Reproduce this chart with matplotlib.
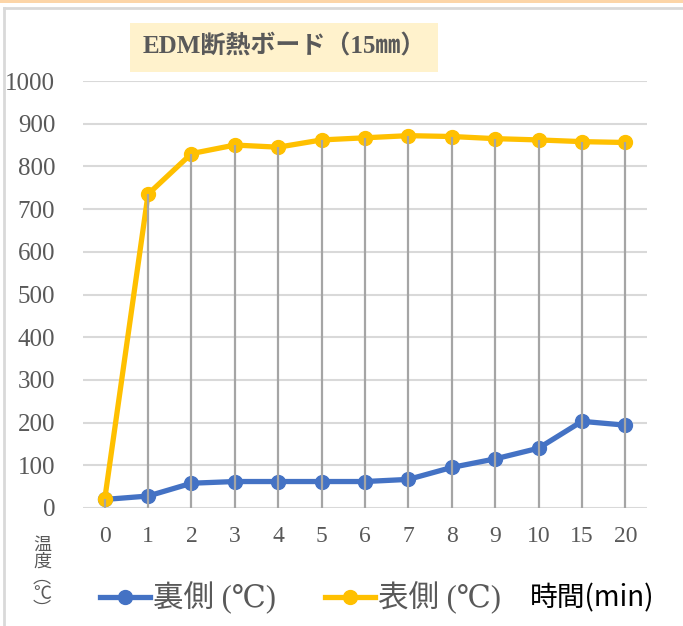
import matplotlib
matplotlib.use("Agg")
import matplotlib.pyplot as plt
from matplotlib.lines import Line2D
from matplotlib.patches import Rectangle
import numpy as np

# Data
minutes = ["0", "1", "2", "3", "4", "5", "6", "7", "8", "9", "10", "15", "20"]
back_side = [20, 28, 58, 62, 62, 62, 62, 67, 95, 115, 140, 203, 194]
front_side = [20, 735, 830, 850, 845, 862, 867, 872, 870, 865, 862, 858, 856]
y_ticks = [0, 100, 200, 300, 400, 500, 600, 700, 800, 900, 1000]
title = "EDM断熱ボード（15㎜）"
series_names = ["裏側 (℃)", "表側 (℃)"]
x_label = "時間(min)"
y_label = "温\n度\n︵\n℃\n︶"

BLUE = "#4472C4"
GOLD = "#FFC000"
TEXT = "#595959"
SERIF = ["Liberation Serif", "DejaVu Serif", "Noto Sans CJK JP"]
CJK = ["Noto Sans CJK JP", "DejaVu Sans"]
LABEL = ["Noto Sans CJK JP", "Liberation Mono", "DejaVu Sans Mono"]

W, H = 683, 626
fig = plt.figure(figsize=(W / 100, H / 100), dpi=100)
fig.patch.set_facecolor("white")

# outer frame decorations
fig.add_artist(Rectangle((0, 1 - 3 / H), 1, 3 / H, transform=fig.transFigure,
                         facecolor="#FCD5A8", edgecolor="none"))
fig.add_artist(Line2D([4 / W, 1], [1 - 8 / H, 1 - 8 / H], transform=fig.transFigure,
                      color="#D9D9D9", lw=2))
fig.add_artist(Line2D([4 / W, 4 / W], [0, 1 - 8 / H], transform=fig.transFigure,
                      color="#D9D9D9", lw=2))

left, right = 83, 647
bottom, top = 508, 81
ax = fig.add_axes([left / W, 1 - bottom / H, (right - left) / W, (bottom - top) / H])
ax.set_facecolor("none")

x = np.arange(len(minutes))
ax.set_xlim(-0.5, len(minutes) - 0.5)
ax.set_ylim(0, 1000)

for v in y_ticks:
    ax.axhline(v, color="#D9D9D9", lw=1.5, zorder=1)

ax.plot(x, back_side, color=BLUE, lw=3.8, marker="o", ms=10, zorder=3,
        solid_capstyle="round", label=series_names[0])
ax.plot(x, front_side, color=GOLD, lw=3.8, marker="o", ms=10, zorder=3,
        solid_capstyle="round", label=series_names[1])

# drop lines from the highest point of each category
tops = np.maximum(back_side, front_side)
ax.vlines(x, 0, tops, color="#A5A5A5", lw=1.6, zorder=4)

for s in ax.spines.values():
    s.set_visible(False)
ax.set_yticks(y_ticks)
ax.set_yticklabels([str(v) for v in y_ticks], family=SERIF, fontsize=18, color=TEXT)
ax.set_xticks(x)
ax.set_xticklabels(minutes, family=SERIF, fontsize=17, color=TEXT)
ax.tick_params(length=0)
ax.tick_params(axis="y", pad=20)
ax.tick_params(axis="x", pad=13)

# title with highlighted box
fig.text(284 / W, 1 - 47 / H, title, ha="center", va="center", family=SERIF,
         fontsize=18, fontweight="bold", color=TEXT,
         bbox=dict(boxstyle="square,pad=0.5", facecolor="#FFF2CC", edgecolor="none"))

# vertical axis label
fig.text(42 / W, 1 - 536 / H, y_label, ha="center", va="top", family=CJK,
         fontsize=13, color=TEXT, linespacing=0.88)

# legend
handles = [Line2D([], [], color=BLUE, lw=3.8, marker="o", ms=10),
           Line2D([], [], color=GOLD, lw=3.8, marker="o", ms=10)]
leg = fig.legend(handles, series_names, loc="center left",
                 bbox_to_anchor=(72 / W, 1 - 598 / H), ncol=2, frameon=False,
                 prop={"family": SERIF, "size": 22}, handlelength=1.65,
                 handletextpad=0.1, columnspacing=1.6, labelcolor=TEXT)

fig.text(530 / W, 1 - 598 / H, x_label, ha="left", va="center", family=LABEL,
         fontsize=20, color="black")

fig.savefig("out.png", dpi=100, facecolor="white")
